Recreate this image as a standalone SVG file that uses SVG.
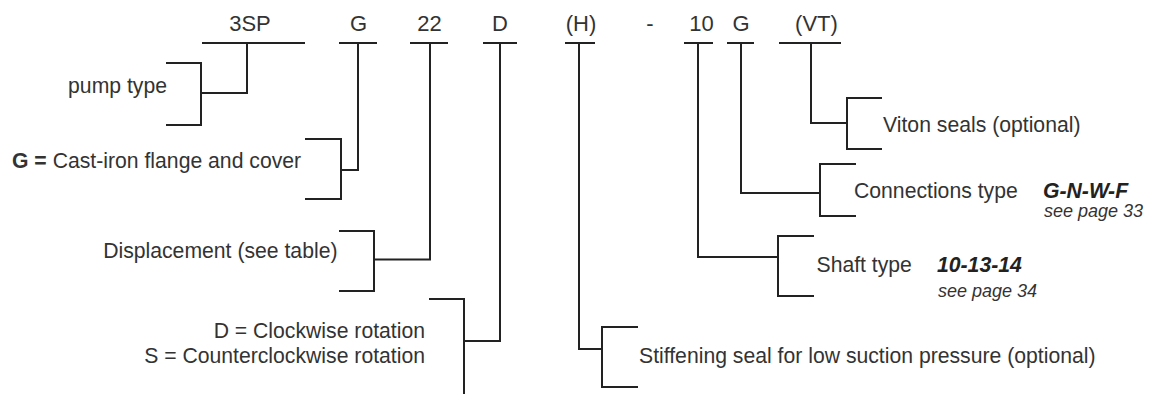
<svg xmlns="http://www.w3.org/2000/svg" width="1158" height="394" viewBox="0 0 1158 394">
<style>
text{font-family:"Liberation Sans",Arial,sans-serif;font-size:21.2px;fill:#333}
.h{text-anchor:middle;font-size:22px}
.e{text-anchor:end}
.bi{font-weight:bold;font-style:italic;fill:#222}
.it{font-style:italic;font-size:18px}
.b{font-weight:bold}
.ln{fill:none;stroke:#222;stroke-width:2;stroke-linejoin:miter;stroke-linecap:butt}
</style>
<rect width="1158" height="394" fill="#fff"/>
<g id="header">
<text class="h" x="250" y="30.5">3SP</text>
<text class="h" x="358.5" y="30.5">G</text>
<text class="h" x="429.5" y="30.5">22</text>
<text class="h" x="500" y="30.5">D</text>
<text class="h" x="581" y="30.5">(H)</text>
<text class="h" x="650" y="30.5">-</text>
<text class="h" x="701.5" y="30.5">10</text>
<text class="h" x="741" y="30.5">G</text>
<text class="h" x="816.5" y="30.5">(VT)</text>
<path class="ln" d="M202,43H305M339,43H377M410,43H448M483,43H517M565,43H595M684,43H713M727,43H754M779,43H841"/>
</g>
<g id="connectors">
<path class="ln" d="M247,43V93H201"/>
<path class="ln" d="M358,43V170H341"/>
<path class="ln" d="M430,43V259.5H374"/>
<path class="ln" d="M500,43V341H464"/>
<path class="ln" d="M579,43V349H602"/>
<path class="ln" d="M698,43V257H778"/>
<path class="ln" d="M741,43V193H820"/>
<path class="ln" d="M811,43V123H847"/>
</g>
<g id="pump-type">
<path class="ln" d="M166,63H201V125H166"/>
<text class="e" x="167" y="93">pump type</text>
</g>
<g id="flange">
<path class="ln" d="M305,139H341V199H305"/>
<text x="12" y="167.5"><tspan class="b">G =</tspan> Cast-iron flange and cover</text>
</g>
<g id="displacement">
<path class="ln" d="M339,231H374V291H339"/>
<text class="e" x="337.5" y="257.5">Displacement (see table)</text>
</g>
<g id="rotation">
<path class="ln" d="M429,299H464V394"/>
<text class="e" x="425" y="338">D = Clockwise rotation</text>
<text class="e" x="425" y="363">S = Counterclockwise rotation</text>
</g>
<g id="stiffening">
<path class="ln" d="M638,327H602V387H638"/>
<text x="639" y="362.5">Stiffening seal for low suction pressure (optional)</text>
</g>
<g id="shaft">
<path class="ln" d="M814,236H778V296H814"/>
<text x="816.5" y="272">Shaft type</text>
<text class="bi" x="937" y="272">10-13-14</text>
<text class="it" x="938" y="296.5">see page 34</text>
</g>
<g id="connections">
<path class="ln" d="M856,164H820V216H856"/>
<text x="854" y="198">Connections type</text>
<text class="bi" x="1043" y="198">G-N-W-F</text>
<text class="it" x="1044" y="217">see page 33</text>
</g>
<g id="viton">
<path class="ln" d="M882,98H847V149H882"/>
<text x="883" y="131.5">Viton seals (optional)</text>
</g>
</svg>
